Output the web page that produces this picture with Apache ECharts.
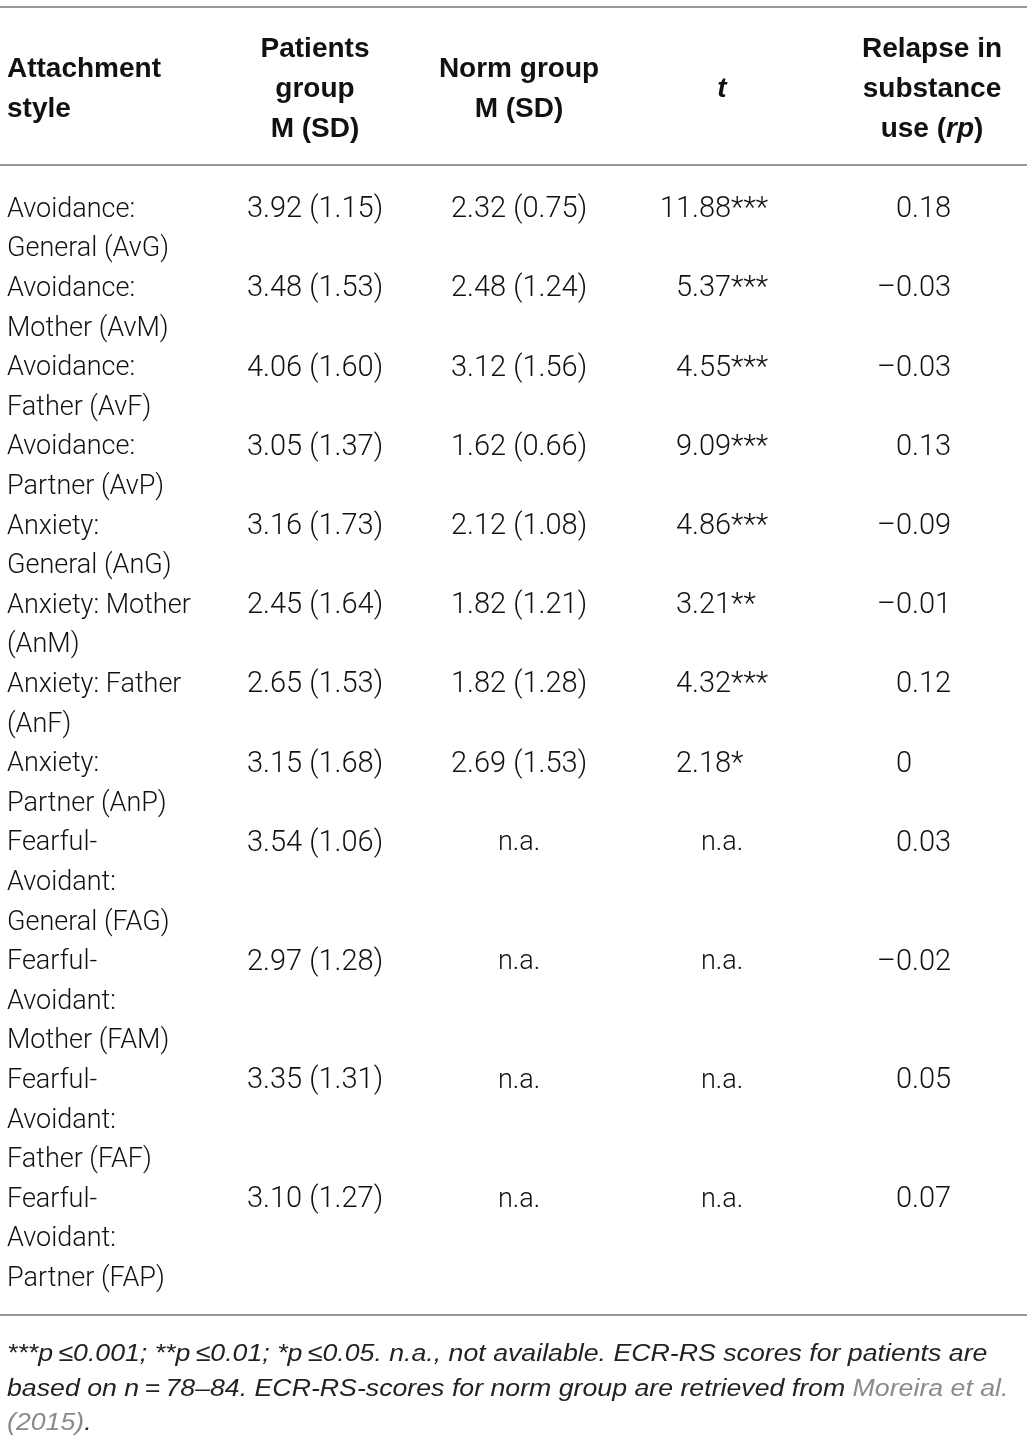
<!DOCTYPE html>
<html lang="en">
<head>
<meta charset="UTF-8">
<title>Attachment style table</title>
<script src="https://cdn.jsdelivr.net/npm/echarts@6/dist/echarts.min.js"></script>
<style>
  html, body {margin: 0; padding: 0; background: #fff;}
  #chart {width: 1034px; height: 1443px;}
</style>
</head>
<body>
<div id="chart"></div>
<script>
// table content
const styleLabels = [
    'Avoidance:\nGeneral (AvG)',
    'Avoidance:\nMother (AvM)',
    'Avoidance:\nFather (AvF)',
    'Avoidance:\nPartner (AvP)',
    'Anxiety:\nGeneral (AnG)',
    'Anxiety: Mother\n(AnM)',
    'Anxiety: Father\n(AnF)',
    'Anxiety:\nPartner (AnP)',
    'Fearful-\nAvoidant:\nGeneral (FAG)',
    'Fearful-\nAvoidant:\nMother (FAM)',
    'Fearful-\nAvoidant:\nFather (FAF)',
    'Fearful-\nAvoidant:\nPartner (FAP)'
]
const patientsM  = [3.92, 3.48, 4.06, 3.05, 3.16, 2.45, 2.65, 3.15, 3.54, 2.97, 3.35, 3.10]
const patientsSD = [1.15, 1.53, 1.60, 1.37, 1.73, 1.64, 1.53, 1.68, 1.06, 1.28, 1.31, 1.27]
const normM  = [2.32, 2.48, 3.12, 1.62, 2.12, 1.82, 1.82, 2.69, null, null, null, null]
const normSD = [0.75, 1.24, 1.56, 0.66, 1.08, 1.21, 1.28, 1.53, null, null, null, null]
const tValues = [11.88, 5.37, 4.55, 9.09, 4.86, 3.21, 4.32, 2.18, null, null, null, null]
const tStars  = ['***', '***', '***', '***', '***', '**', '***', '*', '', '', '', '']
const relapseRp = [0.18, -0.03, -0.03, 0.13, -0.09, -0.01, 0.12, 0, 0.03, -0.02, 0.05, 0.07]
const headerLabels = [
    'Attachment\nstyle',
    'Patients\ngroup\nM (SD)',
    'Norm group\nM (SD)',
    '{ib|t}',
    'Relapse in\nsubstance\nuse ({ib|rp})'
]
const footnote = [
    '{i|***p\u2009≤0.001; **p\u2009≤0.01; *p\u2009≤0.05. n.a., not available. ECR-RS scores for patients are}',
    '{i|based on n\u2009=\u200978–84. ECR-RS-scores for norm group are retrieved from }{g|Moreira et al.}',
    '{g|(2015)}{i|.}'
]

// layout (pixels)
const FONT = 'Roboto, "Liberation Sans", sans-serif'
const HEAD_FONT = '"Liberation Sans", Arial, sans-serif'
const LABEL_SIZE = 27
const NUM_SIZE = 29
const LINE = 39.6      // one text line
const FIRST = 210      // centre of the first body line
const colX = [7, 315, 519, 722, 932]
const tDot = 692       // decimal point of the t column
const rDot = 912       // decimal point of the rp column
const rules = [7, 165, 1315]
const INK = '#111'

// line index where every row starts
const rowStart = []
let acc = 0
styleLabels.forEach(function (s) {
    rowStart.push(acc)
    acc += s.split('\n').length
})

function toLine(px) { return (px - FIRST) / LINE }
function fmt(v) { return v.toFixed(2) }
function minus(s) { return s.replace('-', '–') }

function txt(x, y, text, align, extra) {
    return {
        type: 'text', x: x, y: y,
        style: Object.assign({
            text: text, fill: INK,
            fontFamily: FONT, fontSize: NUM_SIZE, fontWeight: 300,
            align: align, verticalAlign: 'middle', lineHeight: LINE
        }, extra || {})
    }
}

let chart = echarts.init(document.getElementById('chart'), null, {renderer: 'canvas'})

let option = {
    animation: false,
    grid: {left: 0, right: 0, top: 0, bottom: 0},
    xAxis: {type: 'value', min: 0, max: 1034, show: false},
    yAxis: {type: 'value', inverse: true, min: toLine(0), max: toLine(1443), show: false},
    series: [
        {
            // horizontal rules
            type: 'custom',
            silent: true,
            data: rules.map(function (r) { return [toLine(r)] }),
            renderItem: function (params, api) {
                let a = api.coord([0, api.value(0)])
                let b = api.coord([1027, api.value(0)])
                return {
                    type: 'line',
                    shape: {x1: a[0], y1: a[1], x2: b[0], y2: b[1]},
                    style: {stroke: '#999', lineWidth: 2}
                }
            }
        },
        {
            // column headings
            type: 'custom',
            silent: true,
            data: headerLabels.map(function (h, i) { return [i] }),
            renderItem: function (params, api) {
                let i = api.value(0)
                let p = api.coord([colX[i], toLine(89)])
                return txt(p[0], p[1], headerLabels[i], i === 0 ? 'left' : 'center', {
                    fontFamily: HEAD_FONT, fontSize: 28, fontWeight: 'bold', lineHeight: 40,
                    rich: {
                        ib: {fontStyle: 'italic', fontWeight: 'bold', fontFamily: HEAD_FONT, fontSize: 28, lineHeight: 40, fill: INK}
                    }
                })
            }
        },
        {
            // body rows
            type: 'custom',
            silent: true,
            data: styleLabels.map(function (s, i) { return [i] }),
            renderItem: function (params, api) {
                let i = api.value(0)
                let start = rowStart[i]
                let n = styleLabels[i].split('\n').length
                let kids = []

                let p = api.coord([colX[0], start + (n - 1) / 2])
                kids.push(txt(p[0], p[1], styleLabels[i], 'left', {fontSize: LABEL_SIZE}))

                p = api.coord([colX[1], start])
                kids.push(txt(p[0], p[1], fmt(patientsM[i]) + ' (' + fmt(patientsSD[i]) + ')', 'center'))

                p = api.coord([colX[2], start])
                kids.push(txt(p[0], p[1], normM[i] == null ? 'n.a.' : fmt(normM[i]) + ' (' + fmt(normSD[i]) + ')', 'center',
                    normM[i] == null ? {fontSize: LABEL_SIZE} : null))

                if (tValues[i] == null) {
                    p = api.coord([colX[3], start])
                    kids.push(txt(p[0], p[1], 'n.a.', 'center', {fontSize: LABEL_SIZE}))
                } else {
                    let parts = fmt(tValues[i]).split('.')
                    p = api.coord([tDot, start])
                    kids.push(txt(p[0], p[1], parts[0], 'right'))
                    kids.push(txt(p[0], p[1], '.' + parts[1] + tStars[i], 'left'))
                }

                let r = relapseRp[i] === 0 ? '0' : minus(fmt(relapseRp[i]))
                let rp = r.split('.')
                p = api.coord([rDot, start])
                kids.push(txt(p[0], p[1], rp[0], 'right'))
                if (rp[1]) kids.push(txt(p[0], p[1], '.' + rp[1], 'left'))

                return {type: 'group', children: kids}
            }
        }
    ],
    graphic: [
        {
            type: 'text',
            x: 7,
            y: 1337,
            scaleX: 1.09,
            silent: true,
            style: {
                text: footnote.join('\n'),
                rich: {
                    i: {fontFamily: HEAD_FONT, fontSize: 24.5, fontStyle: 'italic', fill: '#222', lineHeight: 34.5},
                    g: {fontFamily: HEAD_FONT, fontSize: 24.5, fontStyle: 'italic', fill: '#8a8a8a', lineHeight: 34.5}
                }
            }
        }
    ]
}

chart.setOption(option)
</script>
</body>
</html>
